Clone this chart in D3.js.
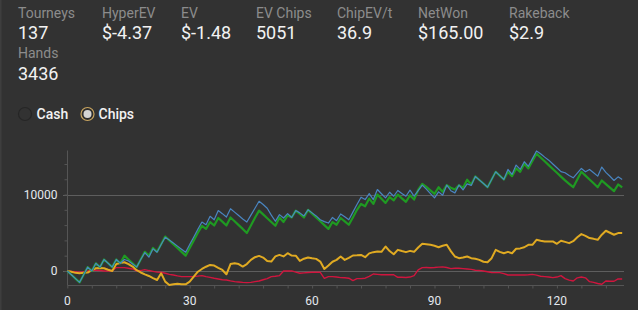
<!DOCTYPE html>
<html><head><meta charset="utf-8">
<script src="https://cdn.jsdelivr.net/npm/d3@7"></script>
<style>
html,body{margin:0;padding:0;background:#323232;}
svg{display:block;font-family:Roboto,"Open Sans",sans-serif;}
</style></head>
<body>
<svg id="c" width="638" height="310"></svg>
<script>
// ---- data ----
const statLabels = ["Tourneys","HyperEV","EV","EV Chips","ChipEV/t","NetWon","Rakeback","Hands"];
const statValues = ["137","$-4.37","$-1.48","5051","36.9","$165.00","$2.9","3436"];
const toggleOptions = ["Cash","Chips"];
const xTickLabels = [0,30,60,90,120];
const yTickLabels = [0,10000];

const chipsWon = [0,-500,-1000,-1500,-500,500,0,1000,500,1500,1000,500,1500,1000,2000,1500,1000,500,1500,2500,
2000,3000,2500,3500,4500,4000,3500,3000,2500,2000,3000,4000,5000,5900,5500,6400,5950,6930,6450,5950,
7000,6500,6000,5500,4960,5950,6950,7900,7400,6900,6400,5920,7000,6400,7280,7000,7900,7450,7000,8000,
7500,7000,6500,6000,5500,6400,6050,6930,6500,6050,7000,8000,8770,8460,9470,8770,10000,9450,8900,9650,
9250,10000,9500,9040,9910,9340,10600,11400,11000,10550,10090,10960,10350,11230,10900,10660,11230,10880,11950,11300,
12370,11900,11450,10960,11970,12980,12480,11970,12980,12410,13420,12980,14030,13420,14400,15350,14850,14350,13850,13350,
12850,12350,11850,11400,10960,11970,12980,12480,11970,11470,10960,11840,11370,10900,10440,11320,10950];

const chipsEV = [0,-500,-1000,-1500,-500,500,0,1000,500,1500,1000,500,1500,1000,1500,1300,900,500,1500,2400,
1800,2900,2450,3450,4400,4050,3650,3250,2850,2450,3450,4450,5450,6400,6050,7150,6700,7900,7500,7060,
8150,7700,7250,6800,6400,7300,8200,9120,8700,8200,7300,6500,7370,6930,7500,7000,7900,7600,7200,8000,
7600,7200,6700,6450,6270,7000,6580,7460,7100,6700,7700,8700,9650,9340,10130,9340,10660,10100,9560,10300,
9780,10530,10150,9780,10570,9780,10500,11230,10700,10130,9560,10350,9910,11230,10500,10220,11230,10600,11400,11200,
12370,11900,11450,10960,11970,12980,12480,11970,13290,12630,13860,13290,14300,13700,14700,15700,15350,14900,14500,14000,
13500,13000,12850,12500,12190,12800,13420,12980,13290,12850,12410,13600,12900,12400,11840,12320,11970];

const cashLine = [0,-100,-250,-300,-250,-220,100,350,400,350,150,0,900,1050,1140,900,570,100,-200,-450,
-660,-950,-1180,-300,-1400,-1840,-1750,-1670,-1750,-1750,-1400,-745,-100,260,550,790,700,400,130,-440,
900,1000,900,570,900,1450,1800,1970,1750,1300,1230,1900,2100,1900,2320,2020,2000,1320,1600,1750,
1650,1580,1230,260,700,1200,1450,1890,1450,1700,2020,2050,2100,1800,2300,2460,2540,2500,3200,2600,
2190,2760,2600,2460,2630,2500,3070,3550,3500,3420,3300,3110,3300,3420,2600,1890,1670,1750,1890,1670,
1600,1450,1200,1140,1670,2760,2500,2320,2500,2320,2900,2950,3100,3420,3420,4080,3950,3860,3860,3860,
3550,3950,3800,3640,3900,4400,4820,4600,4300,4200,4080,4740,5260,5000,4740,4960,4960];

const rakeLine = [0,-50,-100,-175,-100,0,90,90,50,0,0,0,440,440,440,350,260,0,50,175,
50,-50,-150,-175,-300,-450,-530,-650,-745,-745,-745,-745,-680,-610,-745,-850,-960,-1050,-1150,-1180,
-1300,-1400,-1450,-1500,-1535,-1500,-1400,-1320,-1150,-1000,-745,-700,-610,0,0,0,-150,-300,-250,-200,
-175,-175,-175,-960,-745,-750,-800,-880,-900,-950,-1270,-1000,-1000,-950,-700,-400,-450,-500,-500,-500,
-500,-830,-830,-850,-800,-610,130,440,450,420,450,500,530,450,300,350,350,300,260,200,
90,50,0,-100,-200,-220,-220,-350,-530,-530,-530,-530,-530,-500,-450,-550,-700,-745,-800,-880,
-800,-610,-1000,-1200,-1320,-900,-800,-900,-1400,-1500,-1650,-1750,-1320,-1350,-1350,-1050,-1050];

// ---- drawing ----
const svg = d3.select("#c");
svg.append("rect").attr("x",0).attr("y",0).attr("width",1.5).attr("height",310).attr("fill","#3e3e3e");

// header stats
const colX = [18,102,181,256,337,418,509];
statLabels.slice(0,7).forEach((l,i)=>{
  svg.append("text").attr("x",colX[i]).attr("y",18).attr("font-size",14).attr("fill","#8c8c8c").text(l);
  svg.append("text").attr("x",colX[i]).attr("y",39).attr("font-size",18).attr("fill","#f2f2f2").text(statValues[i]);
});
svg.append("text").attr("x",18).attr("y",58).attr("font-size",14).attr("fill","#8c8c8c").text(statLabels[7]);
svg.append("text").attr("x",18).attr("y",80).attr("font-size",18).attr("fill","#f2f2f2").text(statValues[7]);

// radio toggles
svg.append("circle").attr("cx",25).attr("cy",114).attr("r",6.5).attr("fill","none").attr("stroke","#262626").attr("stroke-width",1.2);
svg.append("text").attr("x",36.5).attr("y",119).attr("font-size",14).attr("font-weight",500).attr("fill","#f2f2f2").text(toggleOptions[0]);
svg.append("circle").attr("cx",87.5).attr("cy",114).attr("r",6.5).attr("fill","#2e2e2e").attr("stroke","#c9a560").attr("stroke-width",1.2);
svg.append("circle").attr("cx",87.5).attr("cy",114).attr("r",4).attr("fill","#d4d4d4");
svg.append("text").attr("x",98.5).attr("y",119).attr("font-size",14).attr("font-weight",500).attr("fill","#f2f2f2").text(toggleOptions[1]);

// scales
const n = chipsWon.length;
const x = d3.scaleLinear().domain([0, n-1]).range([67.3, 67.3 + 4.08*(n-1)]);
const all = chipsWon.concat(chipsEV, cashLine, rakeLine);
const y = d3.scaleLinear().domain(d3.extent(all)).range([285, 151]);

const g = svg.append("g");
// gridlines
yTickLabels.forEach(v=>{
  g.append("line").attr("x1",63).attr("x2",624).attr("y1",Math.round(y(v))+0.5).attr("y2",Math.round(y(v))+0.5)
   .attr("stroke","#5e5e5e").attr("stroke-width",1);
});
// y axis
const yAxis = d3.axisLeft(y).tickValues(d3.range(-0, 16001, 2000)).tickSize(3).tickFormat("");
const ya = g.append("g").attr("transform","translate(67.5,0)").call(yAxis);
ya.select(".domain").attr("d",`M0,${y.range()[1]-0.5}V${y.range()[0]}`).attr("stroke","#555");
ya.selectAll(".tick line").attr("stroke","#555");
ya.selectAll(".tick").filter(d=>d>y.domain()[1]).remove();
yTickLabels.forEach(v=>{
  g.append("text").attr("x",57.5).attr("y",y(v)+4.5).attr("text-anchor","end").attr("font-size",12).attr("fill","#e4e8ee").text(v);
});
// x axis
const xAxis = d3.axisBottom(x).tickValues(d3.range(0, n, 6)).tickSize(3).tickFormat("");
const xa = g.append("g").attr("transform",`translate(0,${Math.round(y.range()[0])+0.5})`).call(xAxis);
xa.select(".domain").attr("d",`M${x(0)},0H624`).attr("stroke","#555");
xa.selectAll(".tick line").attr("stroke","#555");
xTickLabels.forEach(v=>{
  g.append("text").attr("x",x(v)).attr("y",305).attr("text-anchor","middle").attr("font-size",12).attr("fill","#e4e8ee").text(v);
});

// lines
const line = d3.line().x((d,i)=>x(i)).y(d=>y(d));
const series = [
  {data: rakeLine, color:"#d0153e", w:1.4},
  {data: cashLine, color:"#e0aa22", w:2},
  {data: chipsWon, color:"#1f9a22", w:2.2},
  {data: chipsEV, color:"#4a85c0", w:1.2}
];
series.forEach(s=>{
  g.append("path").datum(s.data).attr("d",line).attr("fill","none").attr("stroke",s.color)
   .attr("stroke-width",s.w).attr("stroke-linejoin","round");
});
</script>
</body></html>
